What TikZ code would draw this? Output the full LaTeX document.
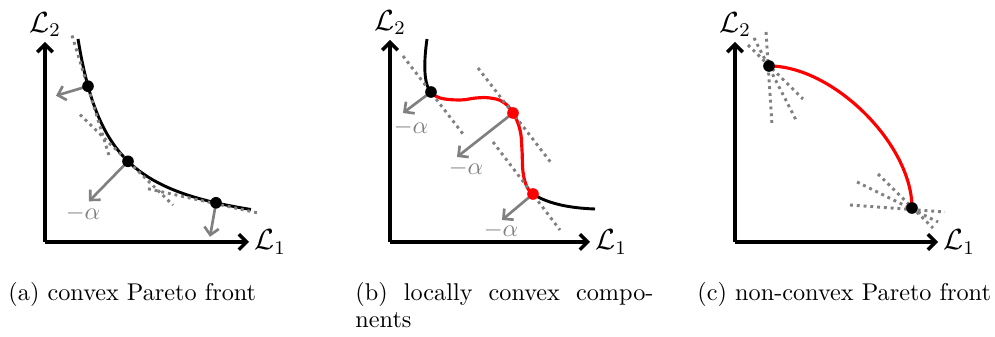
\documentclass[tikz,border=0pt]{standalone}
\usepackage{amsmath,amssymb}
\usepackage{xcolor}
\usepackage{tikz}
\usetikzlibrary{arrows.meta,calc}

\begin{document}
\begin{tikzpicture}[
  x=0.0145cm, y=-0.0145cm,
  axis/.style={-{Straight Barb[length=3.2pt, width=6.4pt]}, line width=1.4pt},
  axlbl/.style={font=\large, inner sep=2pt},
  front/.style={line width=1.2pt},
  redfront/.style={line width=1.3pt, red},
  support/.style={gray, line width=1.2pt, dash pattern=on 1.2pt off 1.6pt},
  normal/.style={-{Straight Barb[length=3pt, width=6pt]}, gray, line width=1.1pt},
  dot/.style={circle, fill=black, inner sep=0pt, minimum size=4.8pt},
  reddot/.style={dot, fill=red},
  lbl/.style={gray, inner sep=0pt},
  caption/.style={inner sep=0pt, anchor=base west}
]
  \useasboundingbox (0,0) rectangle (995,337);

  % (a) convex Pareto front
  \coordinate (oa) at (45,242);
  \coordinate (ya) at (45,42);
  \coordinate (xa) at (249,242);
  \draw[axis] (oa) -- (ya);
  \draw[axis] (oa) -- (xa);
  \node[axlbl, above] (l2a) at (ya) {$\mathcal{L}_2$};
  \node[axlbl, right] (l1a) at (xa) {$\mathcal{L}_1$};

  \draw[front] plot[domain=78:251, samples=80] (\x, {242-6700/(\x-45)});
  \coordinate (p1) at (88,86.2);
  \coordinate (p2) at (128,161.3);
  \coordinate (p3) at (216,202.8);
  \draw[support] ($(p1)+(-16,-50.7)$) -- ($(p1)+(22,72.5)$);
  \draw[support] ($(p2)+(-48,-46.7)$) -- ($(p2)+(45,43.8)$);
  \draw[support] ($(p3)+(-68,-14)$) -- ($(p3)+(41,10)$);
  \coordinate (n1) at ($(p1)+(-32,9.5)$);
  \coordinate (n2) at ($(p2)+(-39,40)$);
  \coordinate (n3) at ($(p3)+(-6,34)$);
  \draw[normal] (p1) -- (n1);
  \draw[normal] (p2) -- (n2);
  \draw[normal] (p3) -- (n3);
  \node[lbl] (al2) at (83,213) {$-\alpha$};
  \node[dot] (a1) at (p1) {};
  \node[dot] (a2) at (p2) {};
  \node[dot] (a3) at (p3) {};

  % (b) locally convex components
  \coordinate (ob) at (390,242);
  \coordinate (yb) at (390,40);
  \coordinate (xb) at (590,242);
  \draw[axis] (ob) -- (yb);
  \draw[axis] (ob) -- (xb);
  \node[axlbl, above] (l2b) at (yb) {$\mathcal{L}_2$};
  \node[axlbl, right] (l1b) at (xb) {$\mathcal{L}_1$};

  \coordinate (q1) at (431,92);
  \coordinate (q2) at (513,113);
  \coordinate (q3) at (533,194);
  \draw[front] (427,39) .. controls (424,60) and (423,84) .. (q1);
  \draw[redfront] plot[smooth, tension=0.7] coordinates {(431,92) (440,98) (460,100)
    (476,98) (490,98) (503,102) (513,113) (520,130) (522,150) (523,172)
    (527,187) (533,194)};
  \draw[front] (q3) .. controls (545,202) and (565,208) .. (595,209);
  \draw[support] ($(q1)+(-28,-36)$) -- ($(q1)+(32,42)$);
  \draw[support] ($(q2)+(-35,-45)$) -- ($(q2)+(39,51)$);
  \draw[support] ($(q3)+(-40,-52)$) -- ($(q3)+(27,36)$);
  \coordinate (m1) at ($(q1)+(-28,21)$);
  \coordinate (m2) at ($(q2)+(-56,44)$);
  \coordinate (m3) at ($(q3)+(-31,26)$);
  \draw[normal] (q1) -- (m1);
  \draw[normal] (q2) -- (m2);
  \draw[normal] (q3) -- (m3);
  \node[lbl] (bl1) at (411,127) {$-\alpha$};
  \node[lbl] (bl2) at (466,168) {$-\alpha$};
  \node[lbl] (bl3) at (501,230) {$-\alpha$};
  \node[dot] (b1) at (q1) {};
  \node[reddot] (b2) at (q2) {};
  \node[reddot] (b3) at (q3) {};

  % (c) non-convex Pareto front
  \coordinate (oc) at (735,242);
  \coordinate (yc) at (735,42);
  \coordinate (xc) at (938,242);
  \draw[axis] (oc) -- (yc);
  \draw[axis] (oc) -- (xc);
  \node[axlbl, above] (l2c) at (yc) {$\mathcal{L}_2$};
  \node[axlbl, right] (l1c) at (xc) {$\mathcal{L}_1$};

  \coordinate (r1) at (769,66);
  \coordinate (r2) at (912,208);
  \draw[redfront] (r1) .. controls (833,66) and (912,144) .. (r2);
  \draw[support] ($(r1)+(-3,-34)$) -- ($(r1)+(3,59)$);
  \draw[support] ($(r1)+(-15,-28)$) -- ($(r1)+(27,54)$);
  \draw[support] ($(r1)+(-21,-21)$) -- ($(r1)+(34,33)$);
  \draw[support] ($(r2)+(-62,-3)$) -- ($(r2)+(33,4)$);
  \draw[support] ($(r2)+(-55,-26)$) -- ($(r2)+(26,14)$);
  \draw[support] ($(r2)+(-34,-34)$) -- ($(r2)+(21,20)$);
  \node[dot] (c1) at (r1) {};
  \node[dot] (c2) at (r2) {};

  % captions
  \node[caption] (capa) at (8,301) {(a) convex Pareto front};
  \node[caption, text width=4.32cm, align=justify,
        font=\fontsize{10pt}{11pt}\selectfont] (capb) at (355,301)
        {(b) locally convex compo-\linebreak nents};
  \node[caption] (capc) at (697,301) {(c) non-convex Pareto front};
\end{tikzpicture}
\end{document}
